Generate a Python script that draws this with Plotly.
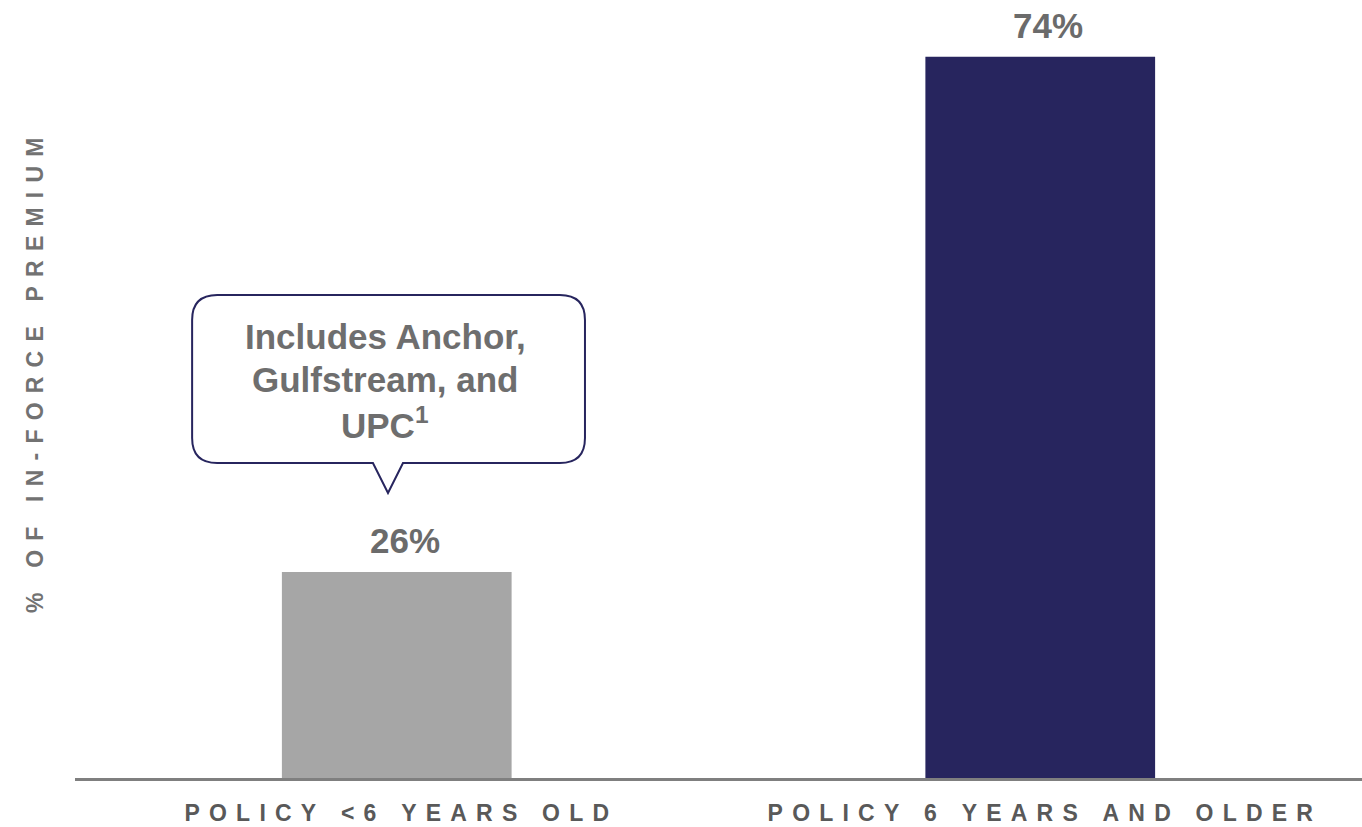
import plotly.graph_objects as go

# ---- data ----
categories = ["POLICY <6 YEARS OLD", "POLICY 6 YEARS AND OLDER"]
values = [26, 74]
value_labels = ["26%", "74%"]
bar_colors = ["#A6A6A6", "#27255E"]
y_title = "% OF IN-FORCE PREMIUM"
callout_lines = ["Includes Anchor,", "Gulfstream, and", "UPC<sup>1</sup>"]

FONT = "Arial, 'Liberation Sans', sans-serif"
THIN = "\u2009"


def spaced(s, n):
    return (THIN * n).join(list(s))


fig = go.Figure()
fig.add_trace(go.Bar(
    x=list(range(len(categories))),
    y=values,
    marker=dict(color=bar_colors, line=dict(width=0)),
    width=0.357,
    hoverinfo="skip",
))

# value labels above bars
for i, (v, lab) in enumerate(zip(values, value_labels)):
    fig.add_annotation(
        x=i, y=v, xref="x", yref="y", text=f"<b>{lab}</b>",
        showarrow=False, yanchor="bottom", xanchor="center",
        xshift=8, yshift=10,
        font=dict(family=FONT, size=35, color="#6B6B6B"),
    )

# callout box (speech bubble) above first bar
x0, x1 = -0.318, 0.2925
yb, yt = 36.16, 51.8
rx, ry = 0.039, 2.33
tl, tr, tip_x, tip_y = -0.037, 0.0097, -0.0136, 33.36
path = (
    f"M {x0+rx},{yt} L {x1-rx},{yt} Q {x1},{yt} {x1},{yt-ry} "
    f"L {x1},{yb+ry} Q {x1},{yb} {x1-rx},{yb} "
    f"L {tr},{yb} L {tip_x},{tip_y} L {tl},{yb} "
    f"L {x0+rx},{yb} Q {x0},{yb} {x0},{yb+ry} "
    f"L {x0},{yt-ry} Q {x0},{yt} {x0+rx},{yt} Z"
)
fig.add_shape(type="path", path=path, xref="x", yref="y",
              line=dict(color="#27255E", width=2), fillcolor="white", layer="above")

line_ys = [47.9, 43.89, 39.88]
for txt, ly in zip(callout_lines, line_ys):
    fig.add_annotation(
        x=-0.018, y=ly, xref="x", yref="y", text=f"<b>{txt}</b>",
        showarrow=False, yanchor="middle", xanchor="center",
        font=dict(family=FONT, size=35, color="#6E6E6E"),
    )

# y axis title
fig.add_annotation(
    x=-0.031, y=0.518, xref="paper", yref="paper",
    text=f"<b>{spaced(y_title, 2)}</b>", textangle=-90,
    showarrow=False, xanchor="center", yanchor="middle",
    font=dict(family=FONT, size=23, color="#727272"),
)

fig.update_layout(
    width=1362, height=827,
    margin=dict(l=75, r=0, t=0, b=49),
    paper_bgcolor="white", plot_bgcolor="white",
    showlegend=False,
    xaxis=dict(
        range=[-0.5, 1.5],
        tickmode="array",
        tickvals=list(range(len(categories))),
        ticktext=[f"<b>{spaced(c, 2)}</b>" for c in categories],
        tickfont=dict(family=FONT, size=23, color="#595959"),
        showline=True, linecolor="#7F7F7F", linewidth=3,
        showgrid=False, zeroline=False, ticks="",
        ticklabelstandoff=12, automargin=False,
    ),
    yaxis=dict(
        range=[6.8, 79.3],
        showticklabels=False, showgrid=False, zeroline=False,
        showline=False, ticks="", automargin=False,
    ),
)

fig.write_html("out.html")
